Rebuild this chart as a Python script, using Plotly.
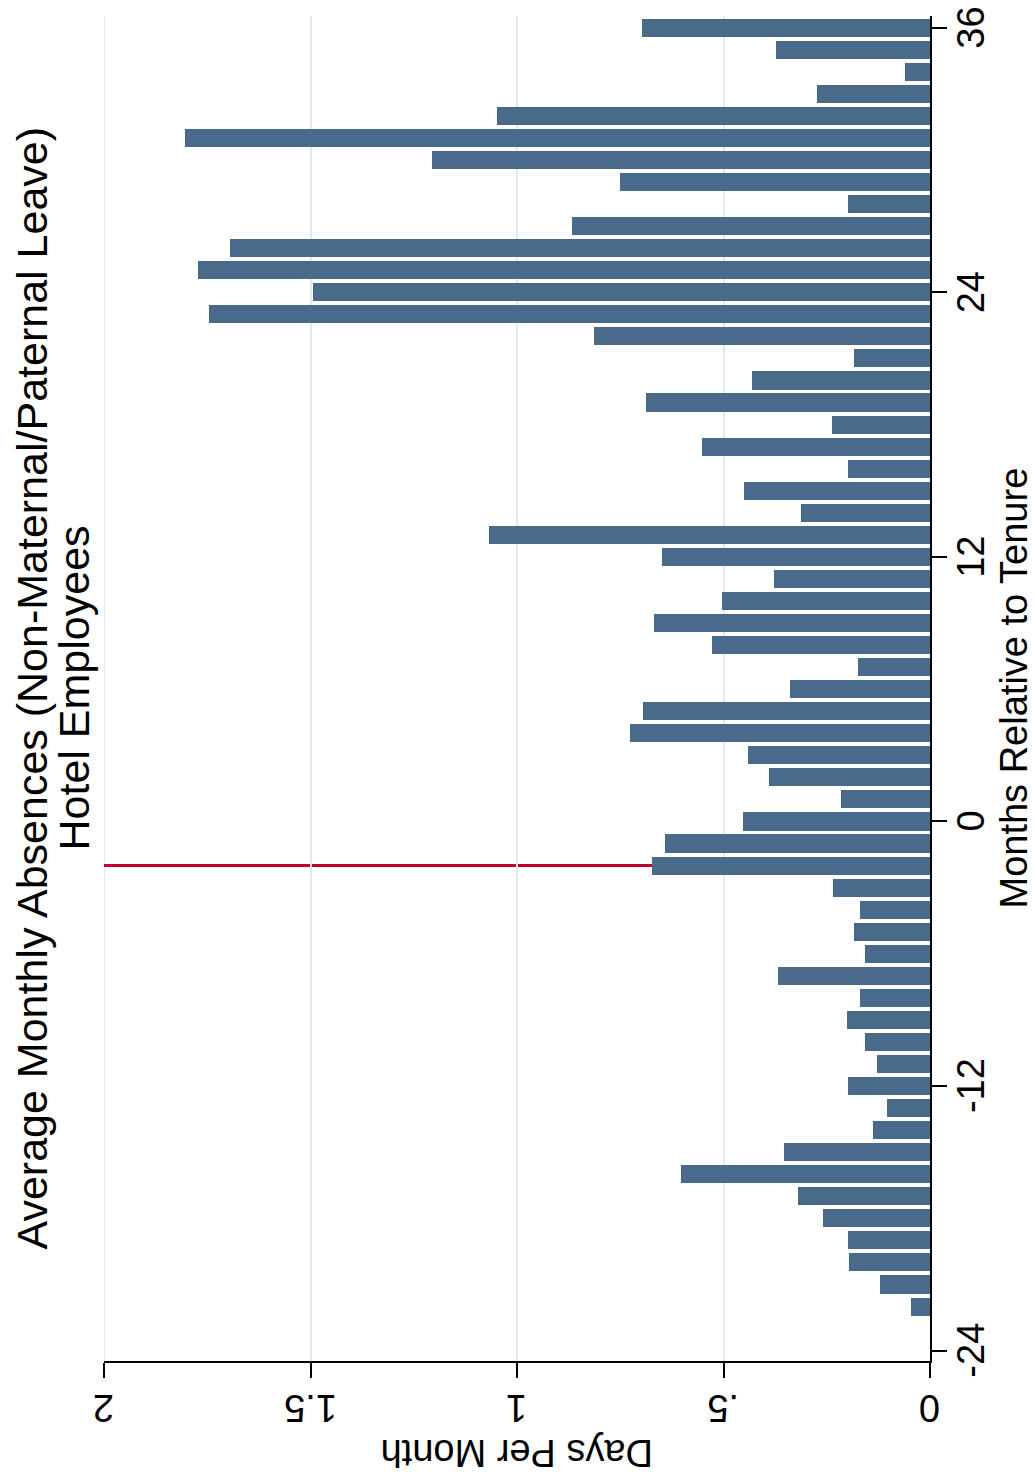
import plotly.graph_objects as go

# Months relative to tenure and average absence days per month
months = list(range(-22, 37))
days_per_month = [
    0.046, 0.120, 0.196, 0.198, 0.258, 0.319, 0.604, 0.354, 0.139, 0.103,   # -22 .. -13
    0.199, 0.129, 0.157, 0.200, 0.169, 0.369, 0.157, 0.183, 0.170, 0.234,   # -12 .. -3
    0.674, 0.641, 0.452, 0.215, 0.390, 0.441, 0.726, 0.695, 0.340, 0.174,   # -2 .. 7
    0.529, 0.668, 0.503, 0.377, 0.648, 1.069, 0.312, 0.451, 0.198, 0.552,   # 8 .. 17
    0.238, 0.687, 0.430, 0.184, 0.814, 1.745, 1.495, 1.772, 1.694, 0.867,   # 18 .. 27
    0.199, 0.751, 1.207, 1.803, 1.048, 0.274, 0.060, 0.373, 0.698,          # 28 .. 36
]

month_ticks = [-24, -12, 0, 12, 24, 36]
month_tick_labels = ["-24", "-12", "0", "12", "24", "36"]
day_ticks = [0, 0.5, 1, 1.5, 2]
day_tick_labels = ["0", ".5", "1", "1.5", "2"]
event_month = -2

title_line1 = "Average Monthly Absences (Non-Maternal/Paternal Leave)"
title_line2 = "Hotel Employees"
month_title = "Months Relative to Tenure"
day_title = "Days Per Month"

FONT = "Liberation Sans, Arial, Helvetica, sans-serif"
BAR = "#496a8a"
GRID = "#e1ebef"
RED = "#c4002e"

W, H = 1034, 1478
L, R, T, B = 104, 104, 16, 117
plot_w = W - L - R
plot_h = H - T - B


def px_x(px):
    return (px - L) / plot_w


def px_y(py):
    return (H - B - py) / plot_h


fig = go.Figure()
fig.add_trace(go.Bar(
    x=days_per_month,
    y=months,
    orientation="h",
    width=0.82,
    marker=dict(color=BAR, line=dict(width=0)),
    hoverinfo="x+y",
))

# gridline at the far end of the value axis
fig.add_shape(
    type="line", xref="x", yref="paper",
    x0=day_ticks[-1], x1=day_ticks[-1], y0=0, y1=1,
    line=dict(color=GRID, width=2), layer="below",
)

# reference line at the event month, drawn behind the bars
fig.add_shape(
    type="line", xref="x", yref="y",
    x0=day_ticks[0], x1=day_ticks[-1], y0=event_month, y1=event_month,
    line=dict(color=RED, width=3), layer="below",
)

fig.update_layout(
    width=W, height=H,
    margin=dict(l=L, r=R, t=T, b=B, pad=0, autoexpand=False),
    paper_bgcolor="white", plot_bgcolor="white",
    showlegend=False,
    font=dict(family=FONT, color="black"),
    bargap=0,
)

fig.update_xaxes(
    range=[2, 0],
    tickvals=day_ticks,
    showticklabels=False,
    ticks="outside", ticklen=15, tickwidth=2, tickcolor="black",
    showline=True, linecolor="black", linewidth=2,
    showgrid=True, gridcolor=GRID, gridwidth=2,
    zeroline=False, automargin=False,
    fixedrange=True,
)

fig.update_yaxes(
    range=[-24.47, 36.53],
    side="right",
    tickvals=month_ticks,
    showticklabels=False,
    ticks="outside", ticklen=15, tickwidth=2, tickcolor="black",
    showline=True, linecolor="black", linewidth=2,
    showgrid=False, zeroline=False, automargin=False,
    fixedrange=True,
)

# tick labels: value axis upside down, month axis reading upward
for v, lab in zip(day_ticks, day_tick_labels):
    fig.add_annotation(
        xref="x", yref="paper", x=v, y=px_y(1408),
        text=lab, textangle=180, showarrow=False,
        xanchor="center", yanchor="middle",
        font=dict(family=FONT, size=38, color="black"),
    )
for m, lab in zip(month_ticks, month_tick_labels):
    fig.add_annotation(
        xref="paper", yref="y", x=px_x(971), y=m,
        text=lab, textangle=-90, showarrow=False,
        xanchor="center", yanchor="middle",
        font=dict(family=FONT, size=38, color="black"),
    )

annotations = [
    dict(text=title_line1, x=px_x(31), y=0.5, textangle=-90, font_size=43),
    dict(text=title_line2, x=px_x(73), y=0.5, textangle=-90, font_size=43),
    dict(text=month_title, x=px_x(1013), y=0.5, textangle=-90, font_size=38),
    dict(text=day_title, x=0.5, y=px_y(1453), textangle=180, font_size=38),
]
for a in annotations:
    fig.add_annotation(
        xref="paper", yref="paper", showarrow=False,
        xanchor="center", yanchor="middle",
        font=dict(family=FONT, color="black", size=a.pop("font_size")),
        **a,
    )

fig.write_html("out.html")
